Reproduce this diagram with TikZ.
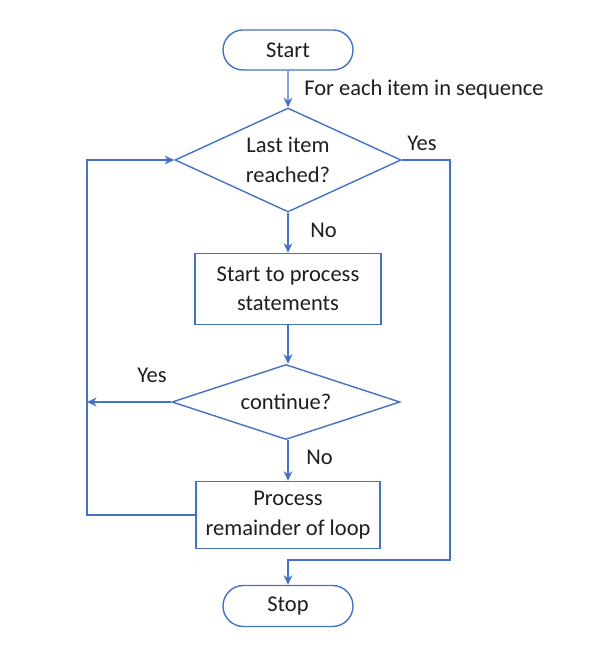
\documentclass[tikz,border=0pt]{standalone}
\usepackage{fontspec}
\setmainfont{Carlito}
\usetikzlibrary{shapes.geometric,shapes.misc,arrows.meta}
\definecolor{flowblue}{RGB}{68,114,196}
\definecolor{inktext}{RGB}{30,30,30}
\tikzset{
terminal/.style={
	draw=flowblue, line width=1pt, rounded rectangle,
	minimum width=3.25cm, minimum height=1cm, inner sep=0pt},
decision/.style={
	draw=flowblue, line width=1pt, diamond, align=center, inner sep=0pt},
process/.style={
	draw=flowblue, line width=1pt, rectangle, align=center},
flow/.style={
	flowblue, line width=1pt, -{Stealth[length=2.4mm,width=2.2mm]}},
tag/.style={anchor=west, inner sep=0pt}
}

\begin{document}
\begin{tikzpicture}[x=0.025cm, y=-0.025cm, font=\fontsize{16}{21}\selectfont, text=inktext]
	\useasboundingbox (0,0) rectangle (608,649);
	\node[terminal] (start) at (288,50) {Start};
	\node[decision, aspect=2.2, minimum width=5.65cm, minimum height=2.6cm] (last) at (288,160) {Last item\\reached?};
	\node[process, minimum width=4.65cm, minimum height=1.775cm] (proc) at (288,289) {Start to process\\statements};
	\node[decision, aspect=3.2, minimum width=5.7cm, minimum height=1.875cm] (cont) at (286,402) {continue?};
	\node[process, minimum width=4.6cm, minimum height=1.675cm] (rest) at (288,515) {Process\\remainder of loop};
	\node[terminal, minimum height=1.025cm] (stop) at (288,606) {Stop};
	% corners of the side lines
	\coordinate (lefttop) at (87,160);
	\coordinate (leftmid) at (87,402);
	\coordinate (leftbot) at (87,515);
	\coordinate (righttop) at (450,160);
	\coordinate (rightbot) at (450,560);
	\coordinate (stopin) at (288,560);
	\draw[flow] (start) -- (last);
	\draw[flow] (last) -- (proc);
	\draw[flow] (proc.south) -- (proc.south |- cont.north);
	\draw[flow] (cont.south -| rest.north) -- (rest.north);
	\draw[flow] (cont.west) -- (leftmid);
	\draw[flow] (rest.west) -- (leftbot) -- (lefttop) -- (last.west);
	\draw[flow] (last.east) -- (righttop) -- (rightbot) -- (stopin) -- (stop.north);
	\node[tag] (each) at (304,90) {For each item in sequence};
	\node[tag] (yesright) at (407,143) {Yes};
	\node[tag] (nofirst) at (310,230) {No};
	\node[tag] (yesleft) at (137,375) {Yes};
	\node[tag] (nosecond) at (306,457) {No};
\end{tikzpicture}
\end{document}
